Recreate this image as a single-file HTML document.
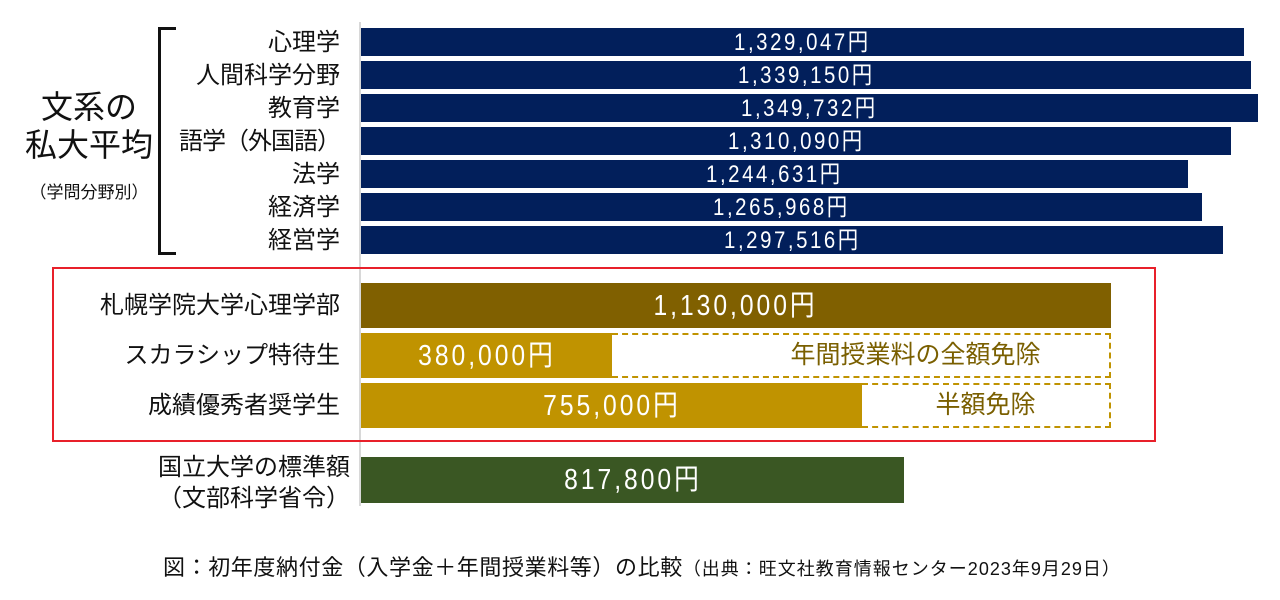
<!DOCTYPE html>
<html><head><meta charset="utf-8"><style>
body{margin:0;width:1280px;height:600px;background:#fff;position:relative;overflow:hidden;font-family:"Liberation Sans","Noto Sans CJK JP",sans-serif;color:#111}
.a{position:absolute}
.lab{position:absolute;right:940px;font-size:24px;white-space:nowrap;line-height:28px}
.bar{position:absolute;left:361px;color:#fff;text-align:center;white-space:nowrap}
.bar span{display:inline-block;transform:scaleX(.85)}
.nv{background:#021f5b;height:28px;font-size:24px;line-height:30px;letter-spacing:3px}
.big{font-size:29px;line-height:46px;height:45px;letter-spacing:3.5px}
.dash{position:absolute;border:2px dashed #c09300;box-sizing:border-box;color:#7a5f00;font-size:25px;line-height:41px;text-align:center}
</style></head><body>
<div class="a" style="left:359px;top:22px;width:2px;height:484px;background:#d8d8d8"></div>
<div class="a" style="left:158px;top:27px;width:3px;height:228px;background:#111"></div>
<div class="a" style="left:158px;top:27px;width:18px;height:3px;background:#111"></div>
<div class="a" style="left:158px;top:252px;width:18px;height:3px;background:#111"></div>
<div class="a" style="left:25px;top:88px;font-size:32px;line-height:38px;text-align:center;width:128px">文系の<br>私大平均</div>
<div class="a" style="left:25px;top:178px;font-size:17px;width:128px;text-align:center">（学問分野別）</div>

<div class="lab" style="top:29px">心理学</div>
<div class="lab" style="top:62px">人間科学分野</div>
<div class="lab" style="top:95px">教育学</div>
<div class="lab" style="top:128px;letter-spacing:-1px">語学（外国語）</div>
<div class="lab" style="top:161px">法学</div>
<div class="lab" style="top:194px">経済学</div>
<div class="lab" style="top:227px">経営学</div>

<div class="bar nv" style="top:28px;width:883px"><span>1,329,047円</span></div>
<div class="bar nv" style="top:61px;width:890px"><span>1,339,150円</span></div>
<div class="bar nv" style="top:94px;width:897px"><span>1,349,732円</span></div>
<div class="bar nv" style="top:127px;width:870px"><span>1,310,090円</span></div>
<div class="bar nv" style="top:160px;width:827px"><span>1,244,631円</span></div>
<div class="bar nv" style="top:193px;width:841px"><span>1,265,968円</span></div>
<div class="bar nv" style="top:226px;width:862px"><span>1,297,516円</span></div>

<div class="a" style="left:52px;top:267px;width:1104px;height:175px;border:2px solid #e8202a;box-sizing:border-box"></div>
<div class="lab" style="top:292px">札幌学院大学心理学部</div>
<div class="lab" style="top:342px">スカラシップ特待生</div>
<div class="lab" style="top:392px">成績優秀者奨学生</div>
<div class="bar big" style="top:283px;width:750px;background:#806000"><span>1,130,000円</span></div>
<div class="bar big" style="top:333px;width:251px;background:#c09300"><span>380,000円</span></div>
<div class="dash" style="left:612px;top:333px;width:499px;height:45px;border-left:none;padding-left:110px">年間授業料の全額免除</div>
<div class="bar big" style="top:383px;width:501px;background:#c09300"><span>755,000円</span></div>
<div class="dash" style="left:862px;top:383px;width:249px;height:45px;border-left:none">半額免除</div>

<div class="lab" style="top:452px;right:930px;text-align:center;line-height:31px">国立大学の標準額<br>（文部科学省令）</div>
<div class="bar big" style="top:457px;width:543px;background:#3a5723;height:46px"><span>817,800円</span></div>

<div class="a" style="left:163px;top:550px;font-size:22px;letter-spacing:0.6px;white-space:nowrap">図：初年度納付金（入学金＋年間授業料等）の比較<span style="font-size:18px;letter-spacing:1px">（出典：旺文社教育情報センター2023年9月29日）</span></div>
</body></html>
